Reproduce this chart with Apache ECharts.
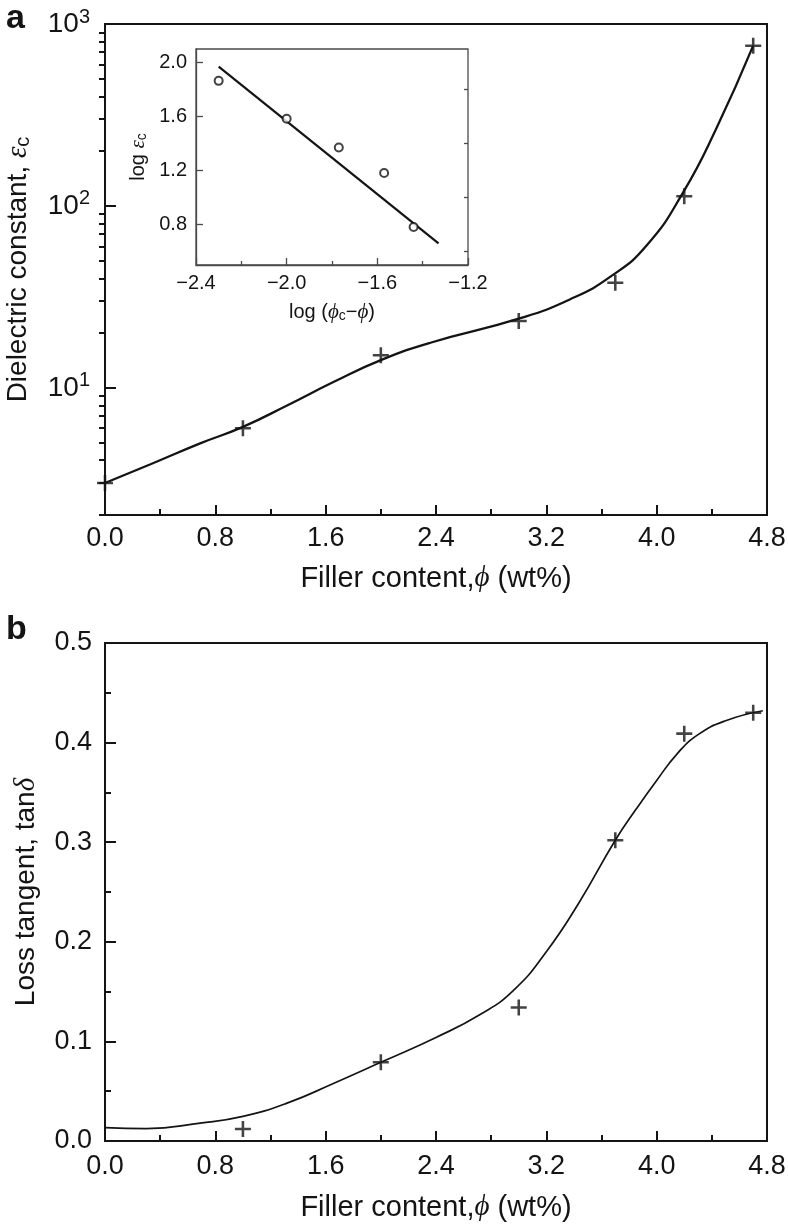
<!DOCTYPE html>
<html>
<head>
<meta charset="utf-8">
<script src="https://cdn.jsdelivr.net/npm/echarts@6/dist/echarts.min.js"></script>
<style>html,body{margin:0;padding:0;background:#fff}#c{width:788px;height:1226px}</style>
</head>
<body>
<div id="c"></div>
<script>
// ---------- data ----------
// Panel a: dielectric constant vs filler content (log scale)
const topPhi = [0, 1.0, 2.0, 3.0, 3.7, 4.2, 4.7];
const topEps = [3.0, 6.0, 15.1, 23.3, 37.8, 113, 760];
const topFitPhi = [0, 0.33, 0.69, 1.0, 1.32, 1.66, 2.0, 2.36, 3.0, 3.37, 3.67, 3.93, 4.19, 4.43, 4.70];
const topFitEps = [3.0, 3.8, 4.95, 6.1, 8.0, 10.8, 14.2, 17.7, 24.0, 30.6, 41.1, 61, 118, 264, 760];
// Inset: log eps_c vs log(phi_c - phi)
const insLogDiff = [-2.30, -2.00, -1.77, -1.57, -1.44];
const insLogEps = [1.864, 1.583, 1.370, 1.181, 0.782];
const insFitX = [-2.30, -1.33];
const insFitY = [1.97, 0.66];
// Panel b: loss tangent vs filler content
const botPhi = [1.0, 2.0, 3.0, 3.7, 4.2, 4.7];
const botTan = [0.012, 0.079, 0.134, 0.302, 0.409, 0.430];
const botFitPhi = [0, 0.3, 0.69, 1.0, 1.32, 1.66, 2.0, 2.4, 2.72, 2.96, 3.2, 3.44, 3.7, 3.85, 4.0, 4.15, 4.3, 4.5, 4.77];
const botFitTan = [0.0135, 0.0125, 0.018, 0.0248, 0.038, 0.058, 0.079, 0.104, 0.127, 0.151, 0.19, 0.24, 0.302, 0.333, 0.362, 0.389, 0.408, 0.422, 0.432];
// tick values
const epsMajorTicks = [10, 100, 1000];
const epsMinorTicks = [2,3,4,5,6,7,8,9,20,30,40,50,60,70,80,90,200,300,400,500,600,700,800,900];
const insYMajorTicks = [0.8, 1.2, 1.6, 2.0];
const insYMinorTicks = [0.6, 1.0, 1.4, 1.8];

// ---------- chart ----------
const zip = (a, b) => a.map((v, i) => [v, b[i]]);
const INK = '#141414';
const SANS = 'Liberation Sans, Arial, sans-serif';
const SERIF = 'Liberation Serif, DejaVu Serif, serif';
const PLUS = 'path://M4.2,0H5.8V4.2H10V5.8H5.8V10H4.2V5.8H0V4.2H4.2Z';
const fmt1 = v => (v < 0 ? '\u2212' + Math.abs(v).toFixed(1) : v.toFixed(1));

const chart = echarts.init(document.getElementById('c'), null, {renderer: 'canvas'});

const axisBase = (extra) => Object.assign({
  type: 'value',
  splitLine: {show: false},
  axisLine: {show: true, onZero: false, lineStyle: {color: INK, width: 2}},
  axisTick: {show: true, inside: true, length: 10, lineStyle: {color: INK, width: 2}},
  minorTick: {show: true, splitNumber: 2, length: 6, lineStyle: {color: INK, width: 2}},
  axisLabel: {show: true, color: INK, fontFamily: SANS, fontSize: 27, showMinLabel: true, showMaxLabel: true},
  nameTextStyle: {color: INK, fontFamily: SANS, fontSize: 27}
}, extra);

const option = {
  animation: false,
  backgroundColor: '#fff',
  grid: [
    {left: 105, top: 24, width: 662, height: 491, show: true, borderColor: INK, borderWidth: 2, backgroundColor: 'transparent', outerBoundsMode: 'none', containLabel: false},
    {left: 196, top: 49, width: 272, height: 216, show: true, borderColor: '#4a4a4a', borderWidth: 1.3, backgroundColor: '#fff', outerBoundsMode: 'none', containLabel: false},
    {left: 105, top: 643, width: 662, height: 498, show: true, borderColor: INK, borderWidth: 2, backgroundColor: 'transparent', outerBoundsMode: 'none', containLabel: false}
  ],
  xAxis: [
    axisBase({gridIndex: 0, min: 0, max: 4.8, interval: 0.8,
      axisLabel: {color: INK, fontFamily: SANS, fontSize: 27, margin: 10, formatter: fmt1, showMinLabel: true, showMaxLabel: true},
      name: 'Filler content,{i|\u03D5} (wt%)', nameLocation: 'middle', nameGap: 49,
      nameTextStyle: {color: INK, fontFamily: SANS, fontSize: 29, rich: {i: {fontFamily: SERIF, fontStyle: 'italic', fontSize: 29, color: INK}}}
    }),
    axisBase({gridIndex: 1, min: -2.4, max: -1.2, interval: 0.4,
      axisLine: {show: true, onZero: false, lineStyle: {color: '#4a4a4a', width: 1.3}},
      axisTick: {show: true, inside: true, length: 7, lineStyle: {color: '#4a4a4a', width: 1.3}},
      minorTick: {show: true, splitNumber: 2, length: 4, lineStyle: {color: '#4a4a4a', width: 1.3}},
      axisLabel: {color: INK, fontFamily: SANS, fontSize: 20, margin: 8, formatter: fmt1, showMinLabel: true, showMaxLabel: true},
      name: 'log ({i|\u03D5}{s|c}\u2212{i|\u03D5})', nameLocation: 'middle', nameGap: 36,
      nameTextStyle: {color: INK, fontFamily: SANS, fontSize: 20, rich: {
        i: {fontFamily: SERIF, fontStyle: 'italic', fontSize: 21, color: INK},
        s: {fontFamily: SANS, fontSize: 14, color: INK, verticalAlign: 'bottom', padding: [8, 0, 0, 0]}}}
    }),
    axisBase({gridIndex: 2, min: 0, max: 4.8, interval: 0.8,
      axisLabel: {color: INK, fontFamily: SANS, fontSize: 27, margin: 12, formatter: fmt1, showMinLabel: true, showMaxLabel: true},
      name: 'Filler content,{i|\u03D5} (wt%)', nameLocation: 'middle', nameGap: 52,
      nameTextStyle: {color: INK, fontFamily: SANS, fontSize: 29, rich: {i: {fontFamily: SERIF, fontStyle: 'italic', fontSize: 29, color: INK}}}
    })
  ],
  yAxis: [
    {gridIndex: 0, type: 'log', logBase: 10, min: 2, max: 1000,
      splitLine: {show: false},
      axisLine: {show: true, onZero: false, lineStyle: {color: INK, width: 2}},
      axisTick: {show: true, inside: true, length: 11, customValues: epsMajorTicks, lineStyle: {color: INK, width: 2}},
      axisLabel: {show: true, customValues: epsMajorTicks, color: INK, fontFamily: SANS, fontSize: 28, margin: 15, lineHeight: 34,
        formatter: v => '10{s|' + Math.round(Math.log10(v)) + '}',
        rich: {s: {fontFamily: SANS, fontSize: 20, lineHeight: 20, verticalAlign: 'top', color: INK}}},
      name: '{n|Dielectric constant, }{e|\u03B5}{s|c}', nameLocation: 'middle', nameGap: 72,
      nameTextStyle: {color: INK, fontFamily: SANS, fontSize: 28, rich: {
        n: {fontFamily: SANS, fontSize: 28, color: INK},
        e: {fontFamily: SERIF, fontStyle: 'italic', fontSize: 29, color: INK},
        s: {fontFamily: SANS, fontSize: 20, color: INK, verticalAlign: 'bottom', padding: [10, 0, 0, 0]}}}
    },
    {gridIndex: 0, type: 'log', logBase: 10, min: 2, max: 1000,
      splitLine: {show: false},
      axisLine: {show: false},
      axisTick: {show: true, inside: true, length: 6, customValues: epsMinorTicks, lineStyle: {color: INK, width: 2}},
      axisLabel: {show: false}
    },
    {gridIndex: 1, type: 'value', min: 0.5, max: 2.1,
      splitLine: {show: false},
      axisLine: {show: true, onZero: false, lineStyle: {color: '#4a4a4a', width: 1.3}},
      axisTick: {show: true, inside: true, length: 7, customValues: insYMajorTicks, lineStyle: {color: '#4a4a4a', width: 1.3}},
      axisLabel: {show: true, customValues: insYMajorTicks, color: INK, fontFamily: SANS, fontSize: 20, margin: 9, formatter: fmt1},
      name: 'log {e|\u03B5}{s|c}', nameLocation: 'middle', nameGap: 47,
      nameTextStyle: {color: INK, fontFamily: SANS, fontSize: 20, rich: {
        e: {fontFamily: SERIF, fontStyle: 'italic', fontSize: 21, color: INK},
        s: {fontFamily: SANS, fontSize: 14, color: INK, verticalAlign: 'bottom', padding: [8, 0, 0, 0]}}}
    },
    {gridIndex: 1, type: 'value', min: 0.5, max: 2.1,
      splitLine: {show: false},
      axisLine: {show: false},
      axisTick: {show: true, inside: true, length: 4, customValues: insYMinorTicks, lineStyle: {color: '#4a4a4a', width: 1.3}},
      axisLabel: {show: false}
    },
    axisBase({gridIndex: 2, min: 0, max: 0.5, interval: 0.1,
      axisTick: {show: true, inside: true, length: 11, lineStyle: {color: INK, width: 2}},
      axisLabel: {color: INK, fontFamily: SANS, fontSize: 27, margin: 13, formatter: fmt1, showMinLabel: true, showMaxLabel: true},
      name: 'Loss tangent, tan{d|\u03B4}', nameLocation: 'middle', nameGap: 64,
      nameTextStyle: {color: INK, fontFamily: SANS, fontSize: 28, rich: {d: {fontFamily: SERIF, fontStyle: 'italic', fontSize: 29, color: INK}}}
    })
  ],
  graphic: [
    {type: 'text', left: 6, top: 2, style: {text: 'a', font: 'bold 34px Liberation Sans, Arial, sans-serif', fill: INK}},
    {type: 'text', left: 6, top: 613, style: {text: 'b', font: 'bold 34px Liberation Sans, Arial, sans-serif', fill: INK}}
  ],
  series: [
    {type: 'line', xAxisIndex: 0, yAxisIndex: 0, data: zip(topFitPhi, topFitEps), smooth: 0.5,
      showSymbol: false, lineStyle: {color: INK, width: 2.3}, z: 3},
    {type: 'scatter', xAxisIndex: 0, yAxisIndex: 0, data: zip(topPhi, topEps), symbol: PLUS, symbolSize: 16,
      itemStyle: {color: INK}, z: 4},
    {type: 'line', xAxisIndex: 1, yAxisIndex: 2, data: zip(insFitX, insFitY), showSymbol: false,
      lineStyle: {color: INK, width: 2.2}, z: 5},
    {type: 'scatter', xAxisIndex: 1, yAxisIndex: 2, data: zip(insLogDiff, insLogEps), symbol: 'emptyCircle', symbolSize: 8,
      itemStyle: {color: INK, borderColor: INK, borderWidth: 1.5}, z: 6},
    {type: 'line', xAxisIndex: 2, yAxisIndex: 4, data: zip(botFitPhi, botFitTan), smooth: 0.5,
      showSymbol: false, lineStyle: {color: INK, width: 1.7}, z: 3},
    {type: 'scatter', xAxisIndex: 2, yAxisIndex: 4, data: zip(botPhi, botTan), symbol: PLUS, symbolSize: 16,
      itemStyle: {color: INK}, z: 4}
  ]
};
chart.setOption(option);
</script>
</body>
</html>
